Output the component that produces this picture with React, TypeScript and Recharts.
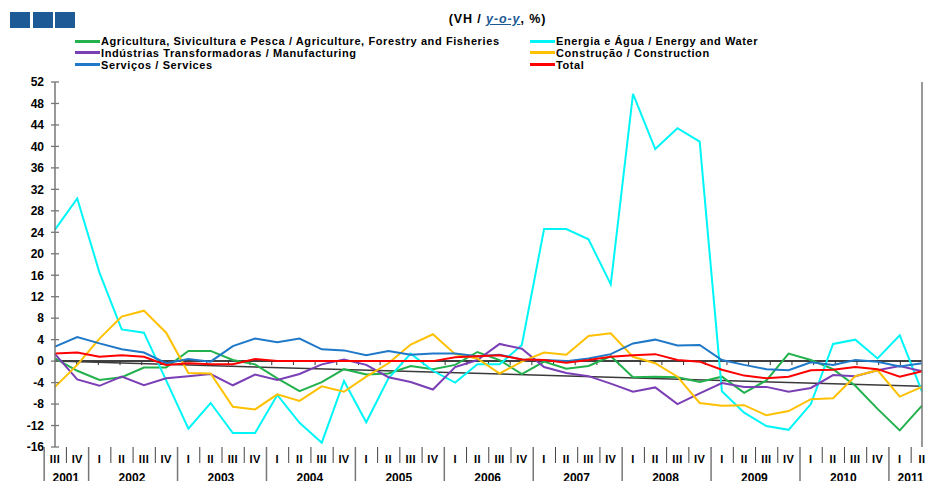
import React from 'react';
import { LineChart, Line, XAxis, YAxis, ReferenceLine } from 'recharts';

// quarters, 2001 III .. 2011 II
const periods = [
  '2001 III', '2001 IV',
  '2002 I', '2002 II', '2002 III', '2002 IV',
  '2003 I', '2003 II', '2003 III', '2003 IV',
  '2004 I', '2004 II', '2004 III', '2004 IV',
  '2005 I', '2005 II', '2005 III', '2005 IV',
  '2006 I', '2006 II', '2006 III', '2006 IV',
  '2007 I', '2007 II', '2007 III', '2007 IV',
  '2008 I', '2008 II', '2008 III', '2008 IV',
  '2009 I', '2009 II', '2009 III', '2009 IV',
  '2010 I', '2010 II', '2010 III', '2010 IV',
  '2011 I', '2011 II',
];

const agriculture = [
  0.5, -1.8, -3.5, -3.0, -1.2, -1.2, 1.9, 1.9, 0.2, -0.6,
  -3.2, -5.6, -3.9, -1.5, -2.5, -2.3, -0.9, -1.5, -0.7, 1.7,
  0.2, -2.4, -0.1, -1.4, -0.9, 0.9, -3.0, -2.9, -3.0, -3.9,
  -2.9, -5.9, -3.6, 1.4, 0.2, -1.5, -4.6, -8.9, -12.9, -8.3,
];
const energy = [
  24.5, 30.3, 16.5, 5.9, 5.3, -3.6, -12.6, -7.8, -13.4, -13.4,
  -6.3, -11.5, -15.2, -3.7, -11.4, -3.2, 1.4, -1.8, -4.0, -0.6,
  -0.6, 3.0, 24.6, 24.6, 22.7, 14.3, 49.8, 39.5, 43.4, 40.9,
  -5.6, -9.6, -12.1, -12.8, -8.0, 3.2, 4.0, 0.5, 4.8, -5.7,
];
const manufacturing = [
  1.3, -3.4, -4.6, -2.9, -4.5, -3.2, -2.8, -2.4, -4.5, -2.5,
  -3.5, -2.4, -0.6, 0.3, -0.7, -3.0, -3.9, -5.3, -1.1, 0.2,
  3.2, 2.3, -1.1, -2.2, -2.8, -4.2, -5.7, -4.9, -8.0, -6.0,
  -4.1, -4.8, -4.8, -5.7, -5.0, -2.6, -2.8, -1.7, -0.9, -1.9,
];
const construction = [
  -4.8, -0.7, 4.2, 8.3, 9.4, 5.3, -2.2, -2.3, -8.5, -9.0,
  -6.2, -7.4, -4.7, -5.7, -2.9, -0.4, 3.1, 5.0, 1.3, 0.5,
  -2.3, -0.1, 1.6, 1.2, 4.7, 5.2, 0.8, -0.4, -2.9, -7.8,
  -8.3, -8.2, -10.1, -9.3, -7.1, -6.9, -2.8, -1.7, -6.6, -4.8,
];
const services = [
  2.7, 4.5, 3.3, 2.2, 1.6, -0.4, 0.4, -0.1, 2.8, 4.2,
  3.5, 4.2, 2.2, 2.0, 1.1, 1.9, 1.2, 1.4, 1.4, 0.9,
  1.2, 0.3, 0.2, 0.0, 0.5, 1.3, 3.3, 4.0, 2.9, 3.0,
  0.2, -0.7, -1.5, -1.7, -0.2, -0.7, 0.2, -0.1, -1.0, -0.4,
];
const total = [
  1.4, 1.6, 0.8, 1.1, 0.8, -0.7, -0.4, -0.6, -0.6, 0.4,
  0.0, 0.0, 0.0, 0.0, 0.0, 0.0, 0.0, 0.0, 0.7, 0.9,
  1.1, 0.3, 0.2, -0.3, 0.2, 0.8, 1.1, 1.3, 0.2, -0.1,
  -1.6, -2.7, -3.2, -2.9, -1.7, -1.6, -1.1, -1.5, -2.9, -1.9,
];
// linear trend of the total, first and last quarter
const trendStart = 0.0;
const trendEnd = -4.7;

const yTicks = [-16, -12, -8, -4, 0, 4, 8, 12, 16, 20, 24, 28, 32, 36, 40, 44, 48, 52];

const series = [
  { key: 'agriculture', name: 'Agricultura, Sivicultura e Pesca / Agriculture, Forestry and Fisheries', color: '#22b14c', values: agriculture },
  { key: 'energy', name: 'Energia e Água / Energy and Water', color: '#00f6f6', values: energy },
  { key: 'manufacturing', name: 'Indústrias Transformadoras / Manufacturing', color: '#7b3fb5', values: manufacturing },
  { key: 'construction', name: 'Construção / Construction', color: '#ffc000', values: construction },
  { key: 'services', name: 'Serviços / Services', color: '#1f78c8', values: services },
  { key: 'total', name: 'Total', color: '#ff0000', values: total },
];

const data = periods.map((p, i) => {
  const row: Record<string, any> = { period: p };
  series.forEach((s) => { row[s.key] = s.values[i]; });
  return row;
});

const FONT = '"Liberation Sans", Arial, sans-serif';
const AXIS_GREY = '#777';

const YTick = (props: any) => {
  const { x, y, payload, side } = props;
  const left = side === 'left';
  const ax = left ? x + 11 : x - 13;
  return (
    <g>
      <line x1={ax - 4} x2={ax + 4} y1={y} y2={y} stroke={AXIS_GREY} strokeWidth={1.3} />
      <text x={x} y={y} dy="0.36em" textAnchor={left ? 'end' : 'start'}
        fontFamily={FONT} fontWeight="bold" fontSize={12} fill="#000">
        {payload.value}
      </text>
    </g>
  );
};

const PeriodTick = (props: any) => {
  const { x, y, payload, index } = props;
  const [year, quarter] = String(payload.value).split(' ');
  const half = payload.offset || props.width / props.visibleTicksCount / 2 || 10.8;
  const left = x - half;
  const prevYear = index > 0 ? periods[index - 1].split(' ')[0] : null;
  const yearStart = year !== prevYear;
  const count = periods.filter((p) => p.startsWith(year + ' ')).length;
  return (
    <g>
      <line x1={left} x2={left} y1={y} y2={y + (yearStart ? 36 : 16)} stroke={yearStart ? AXIS_GREY : '#444'} strokeWidth={yearStart ? 1.5 : 1} />
      <text x={x} y={y + 16} textAnchor="middle" fontFamily={FONT} fontWeight="bold" fontSize={11} fill="#000" letterSpacing={0.4}>
        {quarter}
      </text>
      {yearStart && (
        <text x={left + count * half} y={y + 35} textAnchor="middle" fontFamily={FONT} fontWeight="bold" fontSize={12} fill="#000">
          {year}
        </text>
      )}
    </g>
  );
};

const ZeroLine = (props: any) => {
  const { x1, x2, y1 } = props;
  const step = (x2 - x1) / periods.length;
  return (
    <g>
      <line x1={x1} x2={x2} y1={y1} y2={y1} stroke="#000" strokeWidth={1.5} />
      {periods.map((p, i) => (i > 0 ? (
        <line key={p} x1={x1 + i * step} x2={x1 + i * step} y1={y1} y2={y1 + 4} stroke="#333" strokeWidth={1} />
      ) : null))}
    </g>
  );
};

export default function App() {
  return (
    <div style={{ position: 'absolute', left: 0, top: 0, width: 951, height: 481, background: '#fff', overflow: 'hidden', fontFamily: FONT }}>
      {/* header squares */}
      {[0, 1, 2].map((i) => (
        <div key={i} style={{ position: 'absolute', left: 10 + i * 22.5, top: 12, width: 20, height: 16, background: '#1d5a96' }} />
      ))}
      <div style={{ position: 'absolute', left: 0, width: 995, top: 12, textAlign: 'center', fontSize: 12.5, fontWeight: 'bold', color: '#000', letterSpacing: 0.9 }}>
        (VH / <span style={{ color: '#1d5a96', fontStyle: 'italic', textDecoration: 'underline' }}>y-o-y</span>, %)
      </div>
      {/* legend */}
      {series.map((s, i) => {
        const col = i % 2;
        const row = Math.floor(i / 2);
        const lx = col === 0 ? 75 : 530;
        const ly = 41 + row * 11.8;
        return (
          <div key={s.key} style={{ position: 'absolute', left: lx, top: ly - 7, height: 14, display: 'flex', alignItems: 'center', whiteSpace: 'nowrap' }}>
            <span style={{ display: 'inline-block', width: 25, height: 3, background: s.color, marginRight: 1 }} />
            <span style={{ fontSize: 11, fontWeight: 'bold', color: '#000', lineHeight: '14px', letterSpacing: 0.6 }}>{s.name}</span>
          </div>
        );
      })}
      <div style={{ position: 'absolute', left: 0, top: 0 }}>
        <LineChart width={951} height={481} data={data} margin={{ top: 82, right: 0, bottom: 0, left: 15 }}>
          <XAxis dataKey="period" xAxisId="x" interval={0} height={34} axisLine={false} tickLine={false}
            tickSize={0} tickMargin={0} tick={<PeriodTick />} />
          <YAxis yAxisId="l" orientation="left" width={40} domain={[-16, 52]} ticks={yTicks} interval={0}
            tickSize={4} tickMargin={7} tickLine={false} axisLine={{ stroke: AXIS_GREY, strokeWidth: 1.5 }}
            tick={<YTick side="left" />} />
          <YAxis yAxisId="r" orientation="right" width={29} domain={[-16, 52]} ticks={yTicks} interval={0}
            tickSize={4} tickMargin={9} tickLine={false} axisLine={{ stroke: AXIS_GREY, strokeWidth: 1.5 }}
            tick={<YTick side="right" />} />
          <ReferenceLine xAxisId="x" yAxisId="l" y={0} shape={ZeroLine} />
          <ReferenceLine xAxisId="x" yAxisId="l" stroke="#3a3a3a" strokeWidth={1.5}
            segment={[{ x: periods[0], y: trendStart }, { x: periods[periods.length - 1], y: trendEnd }]} />
          {series.map((s) => (
            <Line key={s.key} xAxisId="x" yAxisId="l" type="linear" dataKey={s.key} name={s.name}
              stroke={s.color} strokeWidth={2} dot={false} activeDot={false} isAnimationActive={false} />
          ))}
        </LineChart>
      </div>
    </div>
  );
}
